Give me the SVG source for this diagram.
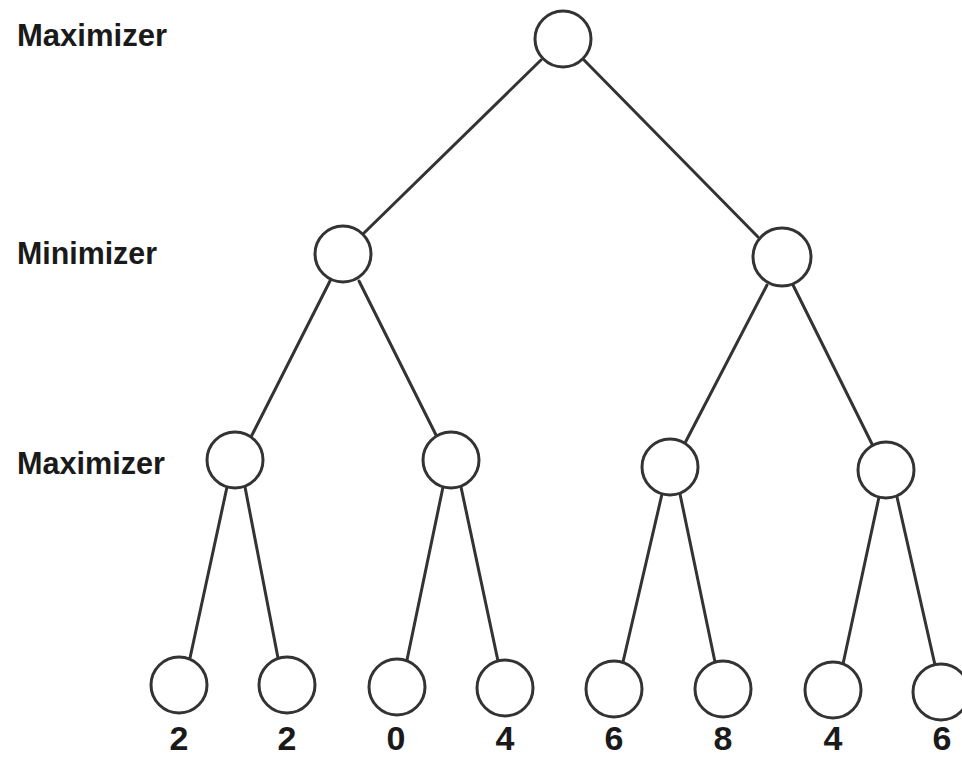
<svg xmlns="http://www.w3.org/2000/svg" width="962" height="757" viewBox="0 0 962 757">
<style>
  .node { fill: #ffffff; stroke: #333333; stroke-width: 3; }
  .edge { stroke: #333333; stroke-width: 3; fill: none; stroke-linecap: round; }
  .lvl { font-family: "Liberation Sans", Arial, sans-serif; font-weight: bold; font-size: 31px; fill: #1a1a1a; }
  .val { font-family: "Liberation Sans", Arial, sans-serif; font-weight: bold; font-size: 34px; fill: #1a1a1a; text-anchor: middle; }
</style>
<rect width="962" height="757" fill="#ffffff"/>
<g id="labels">
  <text class="lvl" x="17" y="46" textLength="150" lengthAdjust="spacingAndGlyphs">Maximizer</text>
  <text class="lvl" x="17" y="264" textLength="140" lengthAdjust="spacingAndGlyphs">Minimizer</text>
  <text class="lvl" x="17" y="474" textLength="148" lengthAdjust="spacingAndGlyphs">Maximizer</text>
</g>
<g id="connectors">
  <line class="edge" x1="541" y1="60" x2="364" y2="233"/>
  <line class="edge" x1="584" y1="60" x2="758" y2="237"/>
  <line class="edge" x1="330" y1="281" x2="251" y2="437"/>
  <line class="edge" x1="359" y1="281" x2="437" y2="437"/>
  <line class="edge" x1="767" y1="285" x2="685" y2="443"/>
  <line class="edge" x1="793" y1="285" x2="872" y2="444"/>
  <line class="edge" x1="227" y1="487" x2="190" y2="658"/>
  <line class="edge" x1="245" y1="487" x2="278" y2="658"/>
  <line class="edge" x1="443" y1="487" x2="407" y2="660"/>
  <line class="edge" x1="461" y1="487" x2="498" y2="661"/>
  <line class="edge" x1="662" y1="494" x2="623" y2="662"/>
  <line class="edge" x1="680" y1="494" x2="715" y2="662"/>
  <line class="edge" x1="879" y1="497" x2="843" y2="664"/>
  <line class="edge" x1="897" y1="497" x2="935" y2="665"/>
</g>
<g id="root"><circle class="node" cx="563" cy="39" r="28"/></g>
<g id="min-left"><circle class="node" cx="343" cy="254" r="28"/></g>
<g id="min-right"><circle class="node" cx="782" cy="257" r="29"/></g>
<g id="max-1"><circle class="node" cx="235" cy="460" r="28"/></g>
<g id="max-2"><circle class="node" cx="451" cy="460" r="28"/></g>
<g id="max-3"><circle class="node" cx="670" cy="467" r="28"/></g>
<g id="max-4"><circle class="node" cx="886" cy="470" r="28"/></g>
<g id="leaf-1"><circle class="node" cx="179" cy="685" r="28"/><text class="val" x="179" y="750">2</text></g>
<g id="leaf-2"><circle class="node" cx="287" cy="685" r="28"/><text class="val" x="287" y="750">2</text></g>
<g id="leaf-3"><circle class="node" cx="397" cy="687" r="28"/><text class="val" x="396" y="750">0</text></g>
<g id="leaf-4"><circle class="node" cx="505" cy="688" r="28"/><text class="val" x="505" y="750">4</text></g>
<g id="leaf-5"><circle class="node" cx="614" cy="689" r="28"/><text class="val" x="614" y="750">6</text></g>
<g id="leaf-6"><circle class="node" cx="723" cy="689" r="28"/><text class="val" x="723" y="750">8</text></g>
<g id="leaf-7"><circle class="node" cx="833" cy="690" r="28"/><text class="val" x="833" y="750">4</text></g>
<g id="leaf-8"><circle class="node" cx="941" cy="692" r="28"/><text class="val" x="942" y="750">6</text></g>
</svg>
